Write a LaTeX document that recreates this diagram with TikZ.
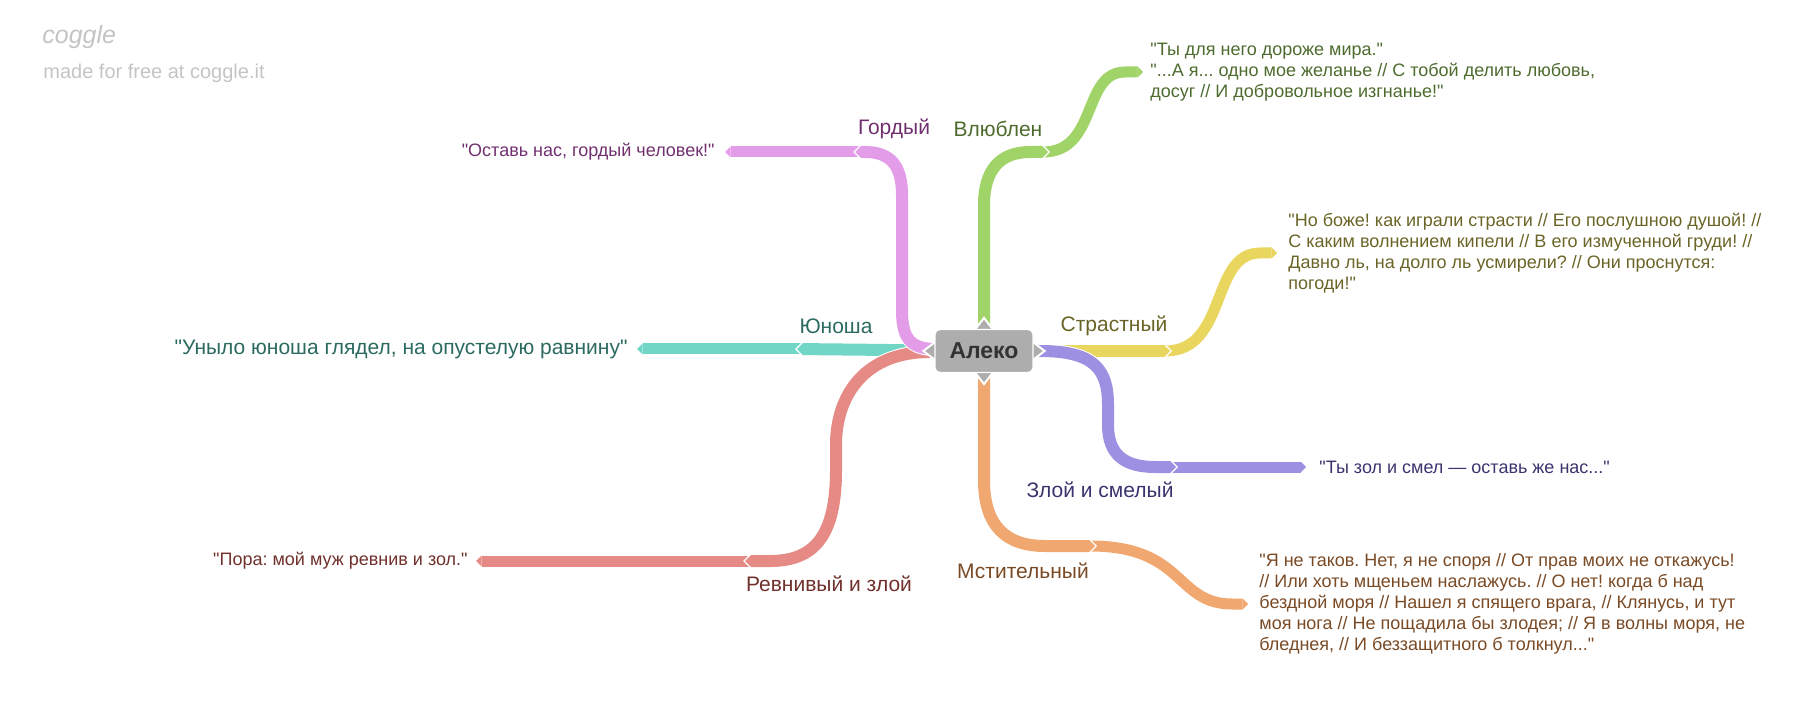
\documentclass[tikz,border=0pt]{standalone}
\usepackage{fontspec}
\setmainfont{Liberation Sans}[Ligatures=TeXOff]
\usetikzlibrary{arrows.meta,positioning,calc}
\frenchspacing

\definecolor{grn}{HTML}{A0D468}
\definecolor{pnk}{HTML}{E29CE8}
\definecolor{tea}{HTML}{72D6C6}
\definecolor{red}{HTML}{E58A84}
\definecolor{org}{HTML}{F0A870}
\definecolor{prp}{HTML}{9D90E2}
\definecolor{ylw}{HTML}{E9D65F}
\definecolor{grntxt}{HTML}{4E6B2E}
\definecolor{pnktxt}{HTML}{70306F}
\definecolor{teatxt}{HTML}{2C6A60}
\definecolor{redtxt}{HTML}{70302C}
\definecolor{orgtxt}{HTML}{7A4A25}
\definecolor{prptxt}{HTML}{3A346E}
\definecolor{ylwtxt}{HTML}{6B6427}
\definecolor{hubgray}{HTML}{ADADAD}
\definecolor{hubtext}{HTML}{333333}
\definecolor{marktxt}{HTML}{C4C4C4}

\pgfdeclarelayer{back}
\pgfdeclarelayer{tabs}
\pgfsetlayers{back,tabs,main}

\begin{document}
\begin{tikzpicture}[x=0.5pt,y=-0.5pt,
  limb/.style={draw=#1,line width=6pt,-{Triangle[width=0pt 1,length=0pt .5,line width=0pt]},shorten >=1pt,preaction={draw=white,line width=7pt,shorten >=0pt}},
  twig/.style={draw=#1,line width=5.5pt,-{Triangle[width=0pt 1,length=0pt .5,line width=0pt]}},
  topic/.style={font=\fontsize{10.5}{12.5}\selectfont,text=#1,inner sep=0pt},
  leaf/.style={font=\fontsize{9}{10.5}\selectfont,text=#1,align=left,inner sep=0pt},
  hub/.style={fill=hubgray,draw=white,line width=.6pt,rounded corners=2.5pt,minimum width=49pt,minimum height=21.5pt,font=\fontsize{11.5}{13}\selectfont\bfseries,text=hubtext},
  tab/.style={fill=hubgray,draw=white,line width=1pt}]
      \useasboundingbox (0,0) rectangle (1820,705);

      \node[text=marktxt,font=\fontsize{12.5}{14}\selectfont\itshape,anchor=west,inner sep=0pt] (logo) at (42,37) {coggle};
      \node[text=marktxt,font=\fontsize{10}{12}\selectfont,anchor=west,inner sep=0pt] (made) at (43,73) {made for free at coggle.it};

      \node[hub] (alek) at (984,351) {Алеко};

      \coordinate (gJ) at (1050,152);
      \coordinate (pJ) at (853,152);
      \coordinate (tJ) at (795,349);
      \coordinate (rJ) at (743,561);
      \coordinate (oJ) at (1097,546);
      \coordinate (uJ) at (1178,467);
      \coordinate (yJ) at (1172,351);

      \coordinate (gT) at (1143,72);
      \coordinate (pT) at (725,152);
      \coordinate (tT) at (637,349);
      \coordinate (rT) at (476,561);
      \coordinate (oT) at (1248,604);
      \coordinate (uT) at (1306,467);
      \coordinate (yT) at (1277,253);

      \begin{pgfonlayer}{back}
      \draw[twig=grn] ([xshift=-3.5pt]gJ) .. controls (1098,152) and (1082,72) .. (1125,72) -- (gT);
      \draw[twig=pnk] ([xshift=3.5pt]pJ) -- (pT);
      \draw[twig=tea] ([xshift=3.5pt]tJ) -- (tT);
      \draw[twig=red] ([xshift=3.5pt]rJ) -- (rT);
      \draw[twig=org] ([xshift=-3.5pt]oJ) .. controls (1185,546) and (1175,604) .. (1232,604) -- (oT);
      \draw[twig=prp] ([xshift=-3.5pt]uJ) -- (uT);
      \draw[twig=ylw] ([xshift=-3.5pt]yJ) .. controls (1228,351) and (1210,253) .. (1260,253) -- (yT);

      \draw[limb=tea] (alek.center) -- (tJ);
      \draw[limb=red] (alek.center) -- (930,352) .. controls (865,352) and (836,395) .. (836,445) -- (836,470) .. controls (836,535) and (815,561) .. (770,561) -- (rJ);
      \draw[limb=pnk] (alek.center) -- (935,349) .. controls (908,349) and (902,335) .. (902,310) -- (902,195) .. controls (902,165) and (890,152) .. (865,152) -- (pJ);
      \draw[limb=grn] (alek.center) -- (984,205) .. controls (984,170) and (1000,152) .. (1030,152) -- (gJ);
      \draw[limb=org] (alek.center) -- (984,480) .. controls (984,525) and (1005,546) .. (1045,546) -- (oJ);
      \draw[limb=ylw] (alek.center) -- (yJ);
      \draw[limb=prp] (alek.center) -- (1040,351) .. controls (1095,351) and (1108,370) .. (1108,405) -- (1108,425) .. controls (1108,455) and (1125,467) .. (1155,467) -- (uJ);
      \end{pgfonlayer}

      \begin{pgfonlayer}{tabs}
      \foreach \a/\r in {north/0,south/180,west/90,east/-90}
        \filldraw[tab,shift={(alek.\a)},rotate=\r] (-10,2) -- (0,-11) -- (10,2) -- cycle;
      \end{pgfonlayer}

      \node[topic=grntxt] (love) at (998,129) {Влюблен};
      \node[topic=pnktxt] (proud) at (894,129) {Гордый};
      \node[topic=teatxt] (youth) at (836,326) {Юноша};
      \node[topic=ylwtxt] (passion) at (1114,326) {Страстный};
      \node[topic=prptxt] (bold) at (1100,490) {Злой и смелый};
      \node[topic=orgtxt] (revenge) at (1023,571) {Мстительный};
      \node[topic=redtxt] (jealous) at (829,584) {Ревнивый и злой};

      \node[leaf=grntxt,right=3.5pt of gT] (loveq) {"Ты для него дороже мира."\\"...А я... одно мое желанье // С тобой делить любовь,\\досуг // И добровольное изгнанье!"};
      \node[leaf=pnktxt,left=5pt of pT] (proudq) {"Оставь нас, гордый человек!"};
      \node[leaf=teatxt,left=4.5pt of tT,font=\fontsize{10.5}{12.5}\selectfont] (youthq) {"Уныло юноша глядел, на опустелую равнину"};
      \node[leaf=redtxt,left=4pt of rT] (jealousq) {"Пора: мой муж ревнив и зол."};
      \node[leaf=orgtxt,right=5.5pt of oT] (revengeq) {"Я не таков. Нет, я не споря // От прав моих не откажусь!\\// Или хоть мщеньем наслажусь. // О нет! когда б над\\бездной моря // Нашел я спящего врага, // Клянусь, и тут\\моя нога // Не пощадила бы злодея; // Я в волны моря, не\\бледнея, // И беззащитного б толкнул..."};
      \node[leaf=prptxt,right=6.5pt of uT] (boldq) {"Ты зол и смел — оставь же нас..."};
      \node[leaf=ylwtxt,right=5.5pt of yT] (passionq) {"Но боже! как играли страсти // Его послушною душой! //\\С каким волнением кипели // В его измученной груди! //\\Давно ль, на долго ль усмирели? // Они проснутся:\\погоди!"};
     \end{tikzpicture}
\end{document}
